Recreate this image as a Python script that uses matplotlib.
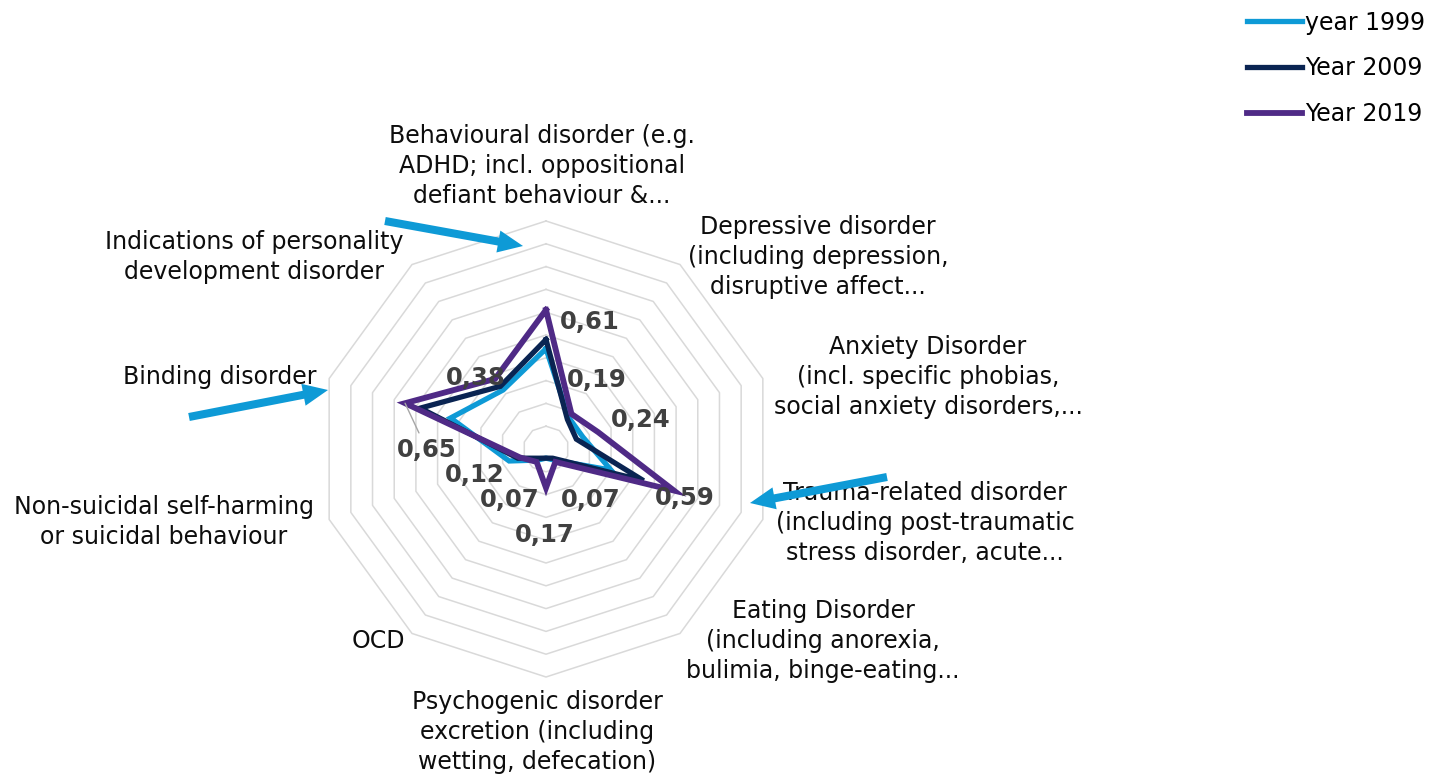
import numpy as np
import matplotlib

matplotlib.use("Agg")
import matplotlib.pyplot as plt

plt.rcParams["font.family"] = ["DejaVu Sans"]

categories = [
    "Behavioural disorder (e.g.\nADHD; incl. oppositional\ndefiant behaviour &...",
    "Depressive disorder\n(including depression,\ndisruptive affect...",
    "Anxiety Disorder\n(incl. specific phobias,\nsocial anxiety disorders,...",
    "Trauma-related disorder\n(including post-traumatic\nstress disorder, acute...",
    "Eating Disorder\n(including anorexia,\nbulimia, binge-eating...",
    "Psychogenic disorder\nexcretion (including\nwetting, defecation)",
    "OCD",
    "Non-suicidal self-harming\nor suicidal behaviour",
    "Binding disorder",
    "Indications of personality\ndevelopment disorder",
]
series_names = ["year 1999", "Year 2009", "Year 2019"]
values_1999 = [0.44, 0.17, 0.17, 0.30, 0.06, 0.04, 0.06, 0.17, 0.44, 0.32]
values_2009 = [0.48, 0.16, 0.14, 0.45, 0.05, 0.04, 0.05, 0.13, 0.58, 0.34]
values_2019 = [0.61, 0.19, 0.24, 0.59, 0.07, 0.17, 0.07, 0.12, 0.65, 0.38]
ring_levels = [0.1, 0.2, 0.3, 0.4, 0.5, 0.6, 0.7, 0.8, 0.9, 1.0]

# layout in image pixels (y down)
W, H = 1433, 774
CX, CY, SCALE = 546, 449, 228
colors = ["#0E9AD6", "#0A2452", "#4F2A86"]
widths = [3.8, 3.8, 4.2]
label_xy = [(542, 166), (818, 257), (928, 377), (925, 523), (823, 641),
            (537, 732), (378, 641), (164, 522), (220, 377), (254, 257)]
value_offsets = [(44, -12), (25, 34), (43, 12), (11, -7), (35, -38),
                 (-1, -47), (-27, -38), (-45, -18), (22, -47), (-19, 1)]
arrows = [((385, 221), (523, 246)), ((189, 417), (328, 390)), ((887, 477), (750, 503))]


def to_data(px, py):
    return (px - CX) / SCALE, (CY - py) / SCALE


n = len(categories)
angles = np.pi / 2 - 2 * np.pi * np.arange(n) / n
cos_a, sin_a = np.cos(angles), np.sin(angles)

fig = plt.figure(figsize=(W / 100, H / 100), dpi=100)
ax = fig.add_axes([0, 0, 1, 1])
ax.set_xlim(-CX / SCALE, (W - CX) / SCALE)
ax.set_ylim(-(H - CY) / SCALE, CY / SCALE)
ax.axis("off")

for r in ring_levels:
    ax.plot(np.append(r * cos_a, r * cos_a[0]), np.append(r * sin_a, r * sin_a[0]),
            color="#D9D9D9", lw=1.1, zorder=1)

lines = []
for name, vals, col, lw in zip(series_names, [values_1999, values_2009, values_2019], colors, widths):
    v = np.array(vals + vals[:1])
    xs = v * np.append(cos_a, cos_a[0])
    ys = v * np.append(sin_a, sin_a[0])
    line, = ax.plot(xs, ys, color=col, lw=lw, solid_joinstyle="miter", label=name, zorder=3)
    lines.append(line)

for k, (val, off) in enumerate(zip(values_2019, value_offsets)):
    props = None
    if k == 8:
        props = dict(arrowstyle="-", color="#A6A6A6", lw=1.0, shrinkA=2, shrinkB=0)
    ax.annotate(f"{val:.2f}".replace(".", ","), xy=(val * cos_a[k], val * sin_a[k]),
                xytext=off, textcoords="offset pixels", ha="center", va="center",
                fontsize=17.5, fontweight="bold", color="#404040", zorder=4,
                arrowprops=props)

for text, (px, py) in zip(categories, label_xy):
    ax.text(*to_data(px, py), text, ha="center", va="center", multialignment="center",
            fontsize=17, color="#0D0D0D", linespacing=1.3, zorder=2)

for tail, tip in arrows:
    ax.annotate("", xy=(tip[0], H - tip[1]), xytext=(tail[0], H - tail[1]),
                xycoords="figure pixels", textcoords="figure pixels",
                arrowprops=dict(arrowstyle="simple,head_length=18,head_width=16,tail_width=5.8",
                                mutation_scale=1, color="#0E9AD6", shrinkA=0, shrinkB=0,
                                lw=0),
                zorder=5)

fig.legend(handles=lines, loc="upper right", bbox_to_anchor=(1.0, 0.997),
           frameon=False, fontsize=17, handlelength=2.35, handletextpad=0.1,
           labelspacing=0.92, borderpad=0.35, borderaxespad=0.0)

fig.savefig("out.png", dpi=100)
